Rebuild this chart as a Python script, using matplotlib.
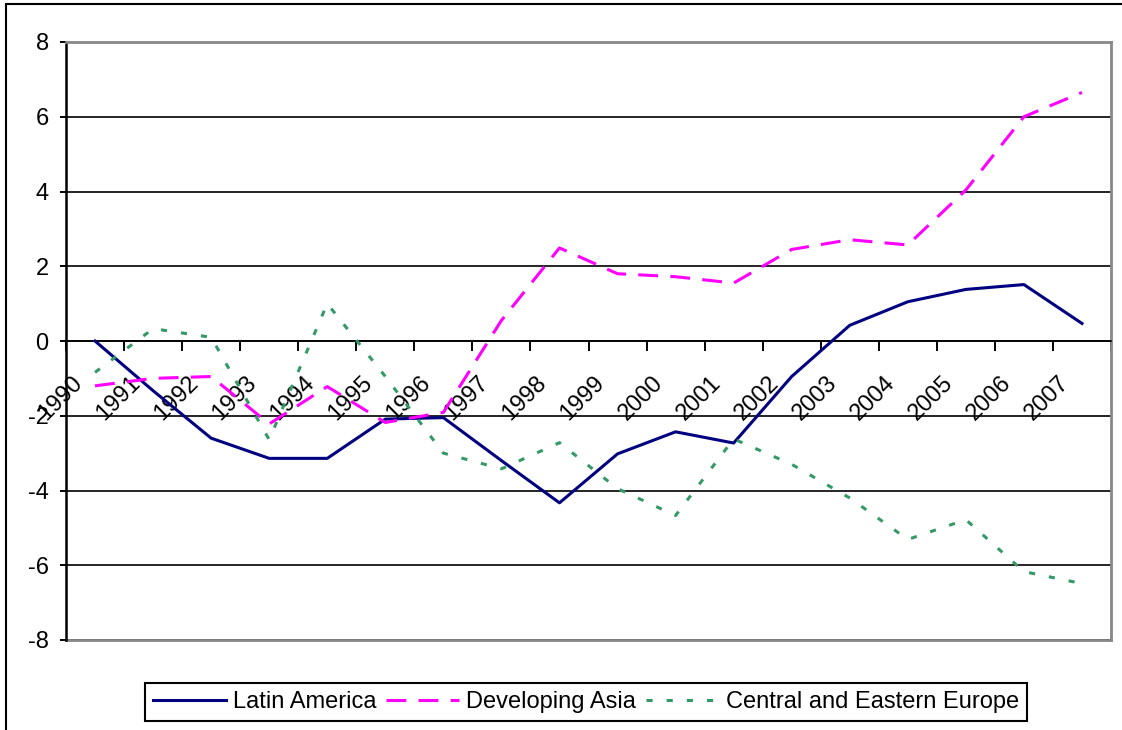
import matplotlib
matplotlib.use('Agg')
import matplotlib.pyplot as plt
from matplotlib.transforms import offset_copy
from matplotlib.patches import Rectangle
from matplotlib.lines import Line2D

plt.rcParams['font.family'] = ['Liberation Sans', 'DejaVu Sans']
plt.rcParams['axes.unicode_minus'] = False

# ---- data ----
years = ['1990', '1991', '1992', '1993', '1994', '1995', '1996', '1997', '1998',
         '1999', '2000', '2001', '2002', '2003', '2004', '2005', '2006', '2007']
latin_america = [0.0, -1.33, -2.6, -3.14, -3.14, -2.09, -2.05, -3.2, -4.33,
                 -3.02, -2.43, -2.73, -0.95, 0.42, 1.05, 1.38, 1.51, 0.47]
developing_asia = [-1.2, -1.0, -0.95, -2.22, -1.22, -2.18, -1.91, 0.55, 2.49,
                   1.80, 1.72, 1.55, 2.45, 2.71, 2.57, 4.04, 6.0, 6.65]
central_eastern_europe = [-0.84, 0.33, 0.1, -2.64, 1.0, -0.95, -3.0, -3.42, -2.72,
                          -3.95, -4.67, -2.62, -3.3, -4.2, -5.31, -4.78, -6.17, -6.49]
series_names = ['Latin America', 'Developing Asia', 'Central and Eastern Europe']
y_ticks = [-8, -6, -4, -2, 0, 2, 4, 6, 8]

W, H = 1122, 730
fig = plt.figure(figsize=(W / 100, H / 100), dpi=100)
ax = fig.add_axes([66 / W, 1 - 640 / H, (1111 - 66) / W, (640 - 42) / H])

x = list(range(len(years)))
l1, = ax.plot(x, latin_america, color='#000080', lw=2.2, zorder=3, label=series_names[0])
l2, = ax.plot(x, developing_asia, color='#FF00FF', lw=2.2, dashes=(6.5, 4), zorder=4,
              label=series_names[1])
l3, = ax.plot(x, central_eastern_europe, color='#339966', lw=2.2, dashes=(2, 4.6), zorder=5,
              label=series_names[2])

ax.set_xlim(-0.5, len(years) - 0.5)
ax.set_ylim(-8, 8)
ax.set_yticks(y_ticks)
ax.set_yticklabels([str(v) for v in y_ticks], fontsize=17)
ax.tick_params(axis='y', length=4.5, width=1.4, pad=8, colors='black')

ax.set_axisbelow(True)
ax.yaxis.grid(True, color='black', lw=1.2)

# spines
ax.spines['left'].set_color('black')
ax.spines['left'].set_linewidth(1.8)
for s in ['top', 'right']:
    ax.spines[s].set_color('#888888')
    ax.spines[s].set_linewidth(2.0)
ax.spines['bottom'].set_position(('data', 0))
ax.spines['bottom'].set_color('black')
ax.spines['bottom'].set_linewidth(1.2)
ax.add_line(Line2D([0, 1], [0, 0], transform=ax.transAxes, color='#888888', lw=2.0,
                   clip_on=False, zorder=2.5))

# x ticks at category boundaries on the zero line
ax.set_xticks(x)
ax.set_xticklabels([])
ax.tick_params(axis='x', which='major', length=0)
ax.set_xticks([i - 0.5 for i in range(len(years) + 1)], minor=True)
ax.tick_params(axis='x', which='minor', length=7, width=1.4, direction='out', colors='black')

# rotated category labels
lab_tr = offset_copy(ax.transData, fig=fig, x=-16, y=-39, units='dots')
for i, yr in enumerate(years):
    ax.text(i, 0, yr, transform=lab_tr, rotation=45, ha='right', va='center',
            rotation_mode='anchor', fontsize=17, zorder=2, clip_on=False)

# legend
leg = fig.legend(handles=[l1, l2, l3], loc='center', bbox_to_anchor=(586 / W, 1 - 702 / H),
                 ncol=3, frameon=True, fancybox=False, edgecolor='black', framealpha=1,
                 fontsize=17, handlelength=3.1, handletextpad=0.3, columnspacing=0.4,
                 borderpad=0.35, borderaxespad=0)
leg.get_frame().set_linewidth(1.5)

# outer chart frame (left/top visible)
fig.patches.append(Rectangle((6 / W, -0.5), 2, 0.5 + (1 - 4 / H), transform=fig.transFigure,
                             fill=False, edgecolor='black', lw=1.5))

fig.savefig('out.png', dpi=100)
